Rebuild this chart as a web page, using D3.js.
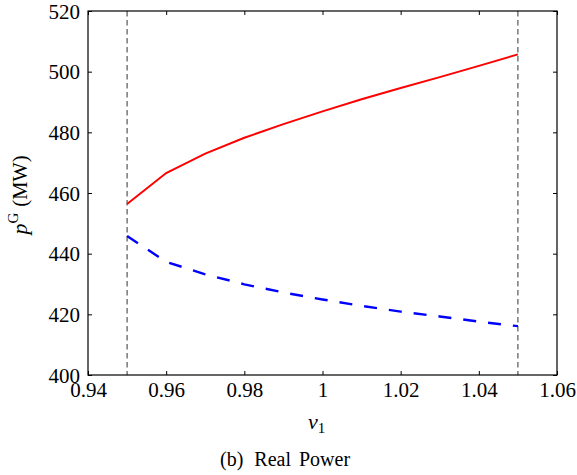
<!DOCTYPE html>
<html>
<head>
<meta charset="utf-8">
<script src="https://cdn.jsdelivr.net/npm/d3@7"></script>
</head>
<body style="margin:0;background:#fff">
<svg id="chart" width="577" height="475"></svg>
<script>
// ---- data ----
const v1Values = [0.95, 0.96, 0.97, 0.98, 0.99, 1.00, 1.01, 1.02, 1.03, 1.04, 1.05];
const upperPG = [456.4, 466.6, 473.0, 478.2, 482.7, 486.9, 490.9, 494.6, 498.2, 501.9, 505.7];
const lowerPG = [445.8, 437.3, 433.2, 429.9, 427.2, 424.9, 422.8, 420.9, 419.3, 417.6, 416.1];
const xTicks = [0.94, 0.96, 0.98, 1.00, 1.02, 1.04, 1.06];
const xTickLabels = ["0.94", "0.96", "0.98", "1", "1.02", "1.04", "1.06"];
const yTicks = [400, 420, 440, 460, 480, 500, 520];
const limitLines = [0.95, 1.05];

(function () {
const FONT = "'Liberation Serif'";
const svg = d3.select("#chart");
const L = 88, R = 557, T = 11, B = 375;
const x = d3.scaleLinear().domain([0.94, 1.06]).range([L, R]);
const y = d3.scaleLinear().domain([400, 520]).range([B, T]);

const fmtX = (d) => xTickLabels[xTicks.indexOf(d)];
const gBottom = svg.append("g").attr("transform", `translate(0,${B})`)
  .call(d3.axisBottom(x).tickValues(xTicks).tickFormat(fmtX).tickSizeInner(-4).tickSizeOuter(0).tickPadding(0));
svg.append("g").attr("transform", `translate(0,${T})`)
  .call(d3.axisTop(x).tickValues(xTicks).tickFormat("").tickSizeInner(-4).tickSizeOuter(0));
const gLeft = svg.append("g").attr("transform", `translate(${L},0)`)
  .call(d3.axisLeft(y).tickValues(yTicks).tickFormat(d3.format("d")).tickSizeInner(-4).tickSizeOuter(0).tickPadding(0));
svg.append("g").attr("transform", `translate(${R},0)`)
  .call(d3.axisRight(y).tickValues(yTicks).tickFormat("").tickSizeInner(-4).tickSizeOuter(0));

svg.selectAll("g").attr("font-family", null);
svg.selectAll(".domain").remove();
svg.selectAll(".tick line").attr("stroke", "#000").attr("stroke-width", 1);

gBottom.selectAll(".tick text")
  .style("font-family", FONT).attr("font-size", 21)
  .attr("y", 22).attr("dy", 0);
gLeft.selectAll(".tick text")
  .style("font-family", FONT).attr("font-size", 21)
  .attr("x", -8).attr("dy", 7);

svg.append("g").selectAll("line").data(limitLines).join("line")
  .attr("x1", d => x(d)).attr("x2", d => x(d))
  .attr("y1", T).attr("y2", B)
  .attr("stroke", "#333").attr("stroke-width", 1)
  .attr("stroke-dasharray", "5.5,3.5");

const upper = v1Values.map((v, i) => [v, upperPG[i]]);
const lower = v1Values.map((v, i) => [v, lowerPG[i]]);
const line = d3.line().x(d => x(d[0])).y(d => y(d[1]));

svg.append("path").datum(upper)
  .attr("d", line).attr("fill", "none")
  .attr("stroke", "#ff0000").attr("stroke-width", 2);
svg.append("path").datum(lower)
  .attr("d", line).attr("fill", "none")
  .attr("stroke", "#0000ff").attr("stroke-width", 2.4)
  .attr("stroke-dasharray", "13,12");

svg.append("rect")
  .attr("x", L).attr("y", T).attr("width", R - L).attr("height", B - T)
  .attr("fill", "none").attr("stroke", "#000").attr("stroke-width", 1.2);

const xl = svg.append("text").attr("x", 308).attr("y", 429).style("font-family", FONT);
xl.append("tspan").attr("font-style", "italic").attr("font-size", 22).text("v");
xl.append("tspan").attr("font-size", 15).attr("dy", 4).text("1");

const yl = svg.append("text").style("font-family", FONT)
  .attr("transform", "translate(27,195) rotate(-90)")
  .attr("text-anchor", "middle");
yl.append("tspan").attr("font-style", "italic").attr("font-size", 22).text("p");
yl.append("tspan").attr("font-size", 15).attr("dy", -9).text("G");
yl.append("tspan").attr("font-size", 20.5).attr("dy", 9).attr("dx", 6).text("(MW)");

const cap = svg.append("text").style("font-family", FONT)
  .attr("x", 220).attr("y", 466).attr("font-size", 20);
cap.append("tspan").text("(b)");
cap.append("tspan").attr("dx", 11).text("Real");
cap.append("tspan").attr("dx", 8).text("Power");
})();
</script>
</body>
</html>
